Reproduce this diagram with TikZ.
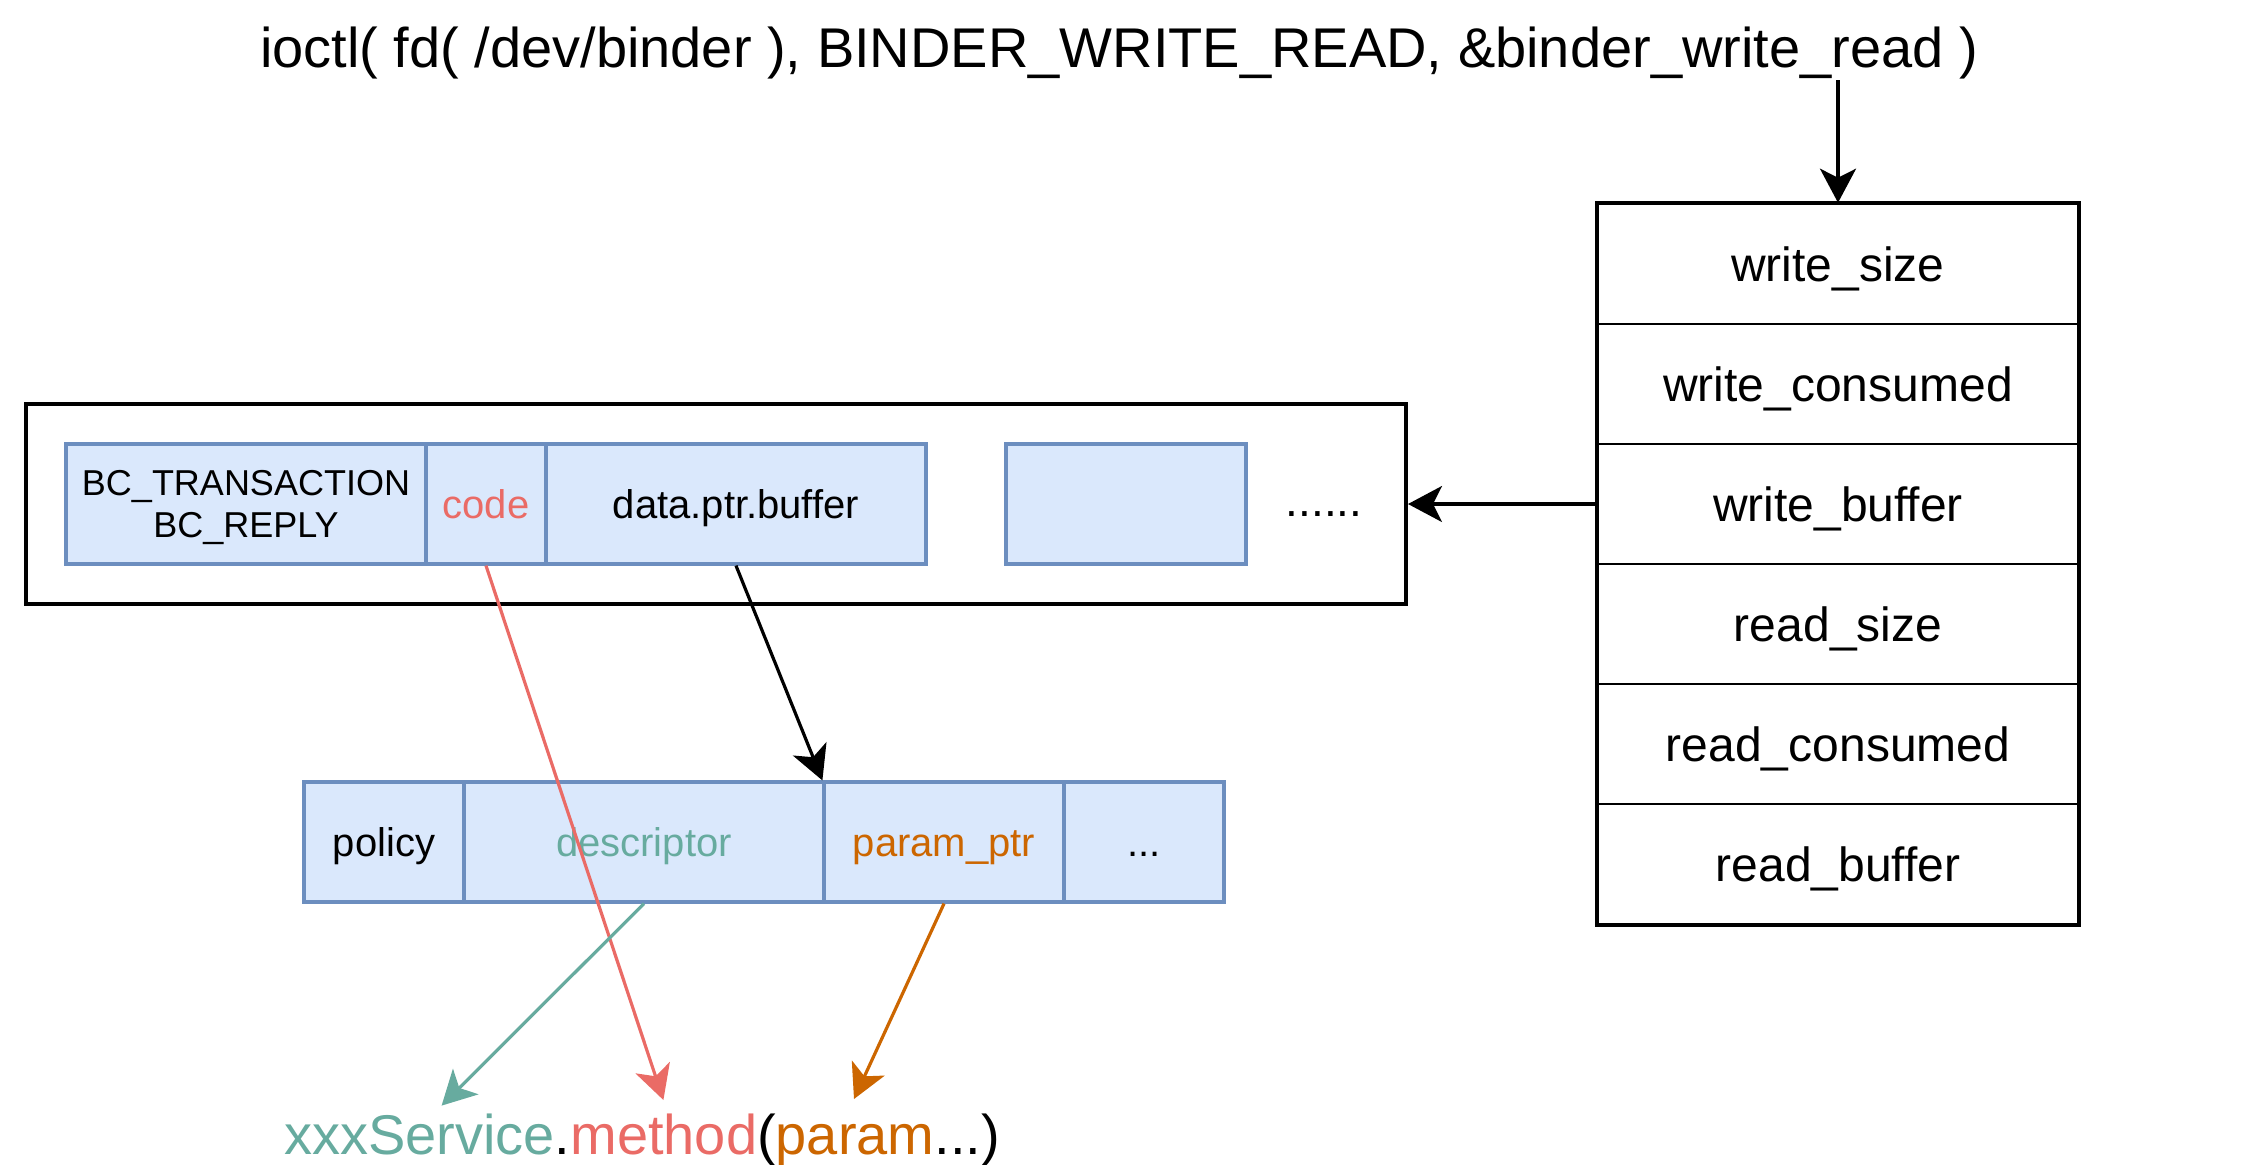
\documentclass[tikz,border=0pt]{standalone}
\usepackage{fontspec}
\setmainfont{Liberation Sans}
\usetikzlibrary{arrows.meta}

\definecolor{blueFill}{HTML}{DAE8FC}
\definecolor{blueLine}{HTML}{6C8EBF}
\definecolor{svcColor}{HTML}{67AB9F}
\definecolor{mthColor}{HTML}{EA6B66}
\definecolor{prmColor}{HTML}{CC6600}

\begin{document}
\begin{tikzpicture}[x=1pt,y=-1pt,
  field/.style={draw, rectangle, line width=1.3pt, minimum width=240pt, minimum height=60pt,
    inner sep=0pt, text height=17.2pt, text depth=0pt, font=\fontsize{24}{29}\selectfont},
  box/.style={draw=blueLine, fill=blueFill, rectangle, line width=1.6pt, minimum height=60pt,
    inner sep=0pt, font=\fontsize{20}{24}\selectfont},
  cell/.style={box, text height=14.3pt, text depth=0pt},
  arr/.style={-{Stealth[length=17pt,width=18pt,inset=4.5pt]}, line width=1.6pt}]

\useasboundingbox (0,0) rectangle (1122,582);

\node[anchor=base, font=\fontsize{28}{34}\selectfont] (ioctl) at (559.5,33.6)
{ioctl( fd( /dev/binder ), BINDER\_WRITE\_READ, \&binder\_write\_read )};%
\coordinate (ioctlArg) at (919,40);

\node[field] (wsize) at (919,132) {write\_size};%
\node[field] (wcons) at (919,192) {write\_consumed};%
\node[field] (wbuf) at (919,252) {write\_buffer};%
\node[field] (rsize) at (919,312) {read\_size};%
\node[field] (rcons) at (919,372) {read\_consumed};%
\node[field] (rbuf) at (919,432) {read\_buffer};%
\draw[line width=2pt] (wsize.north west) rectangle (rbuf.south east);

\node[draw, rectangle, line width=2pt, minimum width=690pt, minimum height=100pt] (cmds) at (358,252) {};%

\node[box, minimum width=180pt, text depth=0pt, align=center, font=\fontsize{18}{21}\selectfont] (bc) at (123,252)
{BC\_TRANSACTION\\BC\_REPLY};%
\node[cell, minimum width=60pt, text=mthColor] (code) at (243,252) {code};%
\node[cell, minimum width=190pt] (buf) at (368,252) {data.ptr.buffer};%
\node[cell, minimum width=120pt] (next) at (563,252) {};%
\node[anchor=base, font=\fontsize{23}{27}\selectfont] (dots) at (662,258) {......};%

\node[cell, minimum width=80pt] (policy) at (192,421) {policy};%
\node[cell, minimum width=180pt, text=svcColor] (desc) at (322,421) {descriptor};%
\node[cell, minimum width=120pt, text=prmColor] (pptr) at (472,421) {param\_ptr};%
\node[cell, minimum width=80pt] (more) at (572,421) {...};%

\node[anchor=base, font=\fontsize{28}{34}\selectfont] (call) at (321,577)
{\textcolor{svcColor}{xxxService}.\textcolor{mthColor}{method}(\textcolor{prmColor}{param}...)};%
\coordinate (svcTip) at (220.8,552.8);
\coordinate (mthTip) at (331.7,550);
\coordinate (prmTip) at (427,549.5);

\draw[arr] (ioctlArg) -- (wsize.north);
\draw[arr] (wbuf.west) -- (cmds.east);
\draw[arr] (buf.south) -- (pptr.north west);
\draw[arr, mthColor] (code.south) -- (mthTip);
\draw[arr, svcColor] (desc.south) -- (svcTip);
\draw[arr, prmColor] (pptr.south) -- (prmTip);

\end{tikzpicture}
\end{document}
